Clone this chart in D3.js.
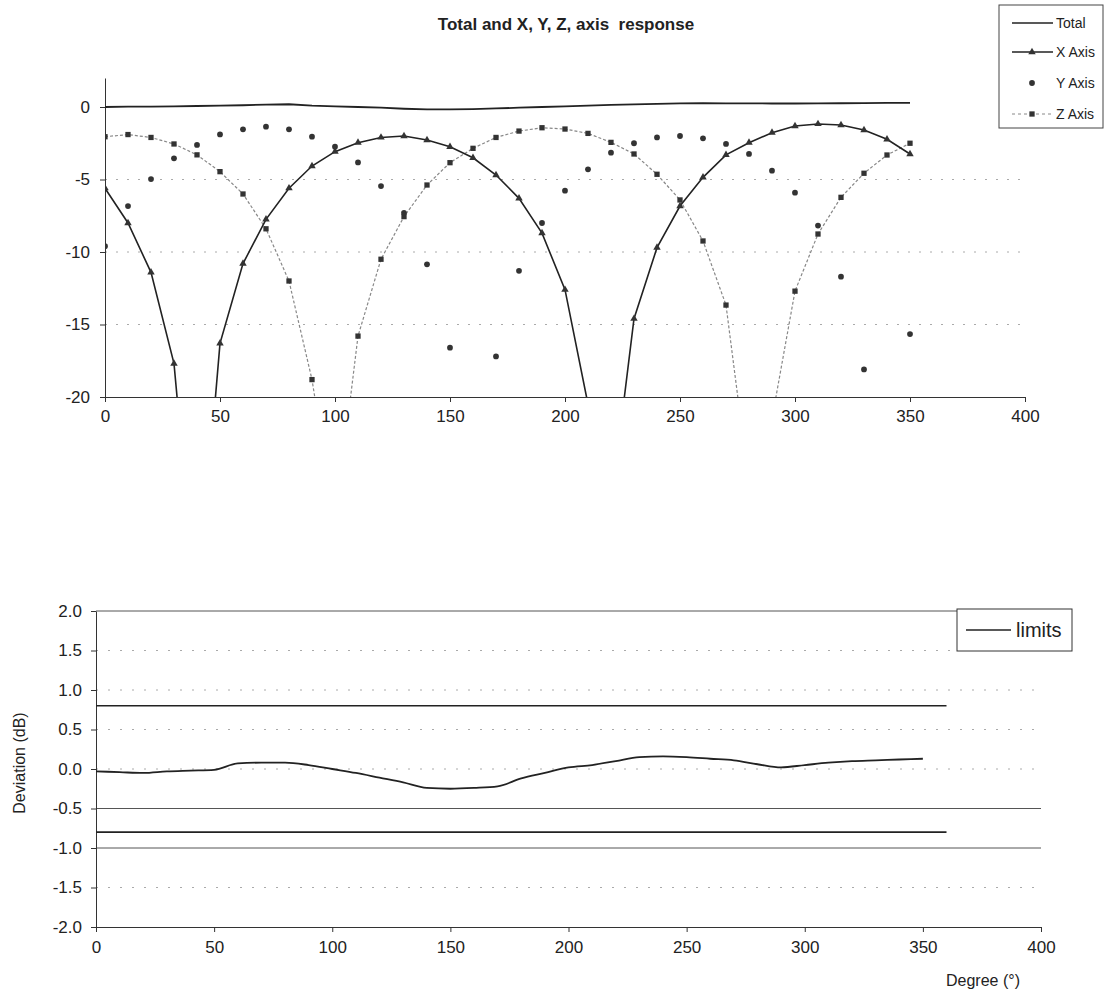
<!DOCTYPE html>
<html><head><meta charset="utf-8">
<script src="https://cdn.jsdelivr.net/npm/d3@7"></script>
<style>body{margin:0;background:#fff}svg{display:block}text{font-family:"Liberation Sans",Arial,sans-serif;fill:#222}</style>
</head><body>
<svg id="c" width="1108" height="993"></svg>
<script>
const degrees = [0,10,20,30,40,50,60,70,80,90,100,110,120,130,140,150,160,170,180,190,200,210,220,230,240,250,260,270,280,290,300,310,320,330,340,350];
const totalVals = [0.0,0.02,0.03,0.05,0.07,0.09,0.12,0.17,0.19,0.1,0.05,0.0,-0.05,-0.12,-0.16,-0.16,-0.14,-0.1,-0.05,0.0,0.05,0.1,0.14,0.18,0.22,0.25,0.26,0.25,0.25,0.24,0.24,0.25,0.26,0.27,0.28,0.28];
const xAxisVals = [-5.6,-8.0,-11.4,-17.7,-35,-16.3,-10.8,-7.75,-5.6,-4.07,-3.08,-2.46,-2.1,-2.0,-2.28,-2.74,-3.5,-4.69,-6.3,-8.7,-12.6,-20.5,-27.5,-14.6,-9.7,-6.83,-4.85,-3.3,-2.46,-1.77,-1.31,-1.17,-1.24,-1.59,-2.23,-3.24];
const yAxisVals = [-9.6,-6.83,-4.97,-3.54,-2.62,-1.89,-1.54,-1.36,-1.54,-2.05,-2.74,-3.82,-5.45,-7.3,-10.85,-16.6,-25,-17.2,-11.3,-8.0,-5.77,-4.3,-3.15,-2.5,-2.1,-2.0,-2.16,-2.55,-3.24,-4.39,-5.91,-8.18,-11.7,-18.1,-24,-15.66];
const zAxisVals = [-2.05,-1.9,-2.1,-2.55,-3.3,-4.46,-6.0,-8.4,-12.0,-18.8,-28.8,-15.8,-10.5,-7.56,-5.38,-3.84,-2.85,-2.1,-1.66,-1.43,-1.52,-1.82,-2.44,-3.24,-4.64,-6.41,-9.24,-13.66,-26,-21.5,-12.7,-8.76,-6.23,-4.57,-3.31,-2.5];
const deviationVals = [-0.03,-0.04,-0.05,-0.03,-0.02,-0.01,0.07,0.08,0.08,0.05,0.0,-0.05,-0.11,-0.17,-0.24,-0.25,-0.24,-0.22,-0.12,-0.05,0.02,0.05,0.1,0.15,0.16,0.15,0.13,0.11,0.06,0.02,0.05,0.08,0.1,0.11,0.12,0.13];
const limitDeg = [0,360];
const upperLimit = [0.8,0.8];
const lowerLimit = [-0.8,-0.8];
const topXTicks = [0,50,100,150,200,250,300,350,400];
const topYTicks = [0,-5,-10,-15,-20];
const botYTicks = [2.0,1.5,1.0,0.5,0.0,-0.5,-1.0,-1.5,-2.0];
const topLegend = ["Total","X Axis","Y Axis","Z Axis"];

const svg = d3.select("#c");
const ink = "#222";
const hy = s => s.replace(/\u2212/g,"-");

// ---------- TOP CHART ----------
const xT = d3.scaleLinear([0,400],[105,1025]);
const yT = d3.scaleLinear([-20,2],[397,78]);

svg.append("text").attr("x",566).attr("y",30).attr("text-anchor","middle")
  .style("font-size","17px").style("font-weight","bold").style("white-space","pre")
  .text("Total and X, Y, Z, axis  response");

svg.append("g").selectAll("line").data([-5,-10,-15]).join("line")
  .attr("x1",xT(0)).attr("x2",xT(400)).attr("y1",d=>yT(d)).attr("y2",d=>yT(d))
  .attr("stroke","#aaa").attr("stroke-width",1).attr("stroke-dasharray","2,9");

svg.append("defs").append("clipPath").attr("id","clipT").append("rect")
  .attr("x",xT(0)).attr("y",yT(2)).attr("width",xT(400)-xT(0)).attr("height",yT(-20)-yT(2));

const gx = svg.append("g").attr("transform",`translate(0,${yT(-20)})`)
  .call(d3.axisBottom(xT).tickValues(topXTicks).tickSize(5).tickSizeOuter(0).tickPadding(8));
const gy = svg.append("g").attr("transform",`translate(${xT(0)},0)`)
  .call(d3.axisLeft(yT).tickValues(topYTicks).tickFormat(d=>hy(d3.format("d")(d))).tickSize(5).tickSizeOuter(0).tickPadding(10));
[gx,gy].forEach(g=>{g.selectAll("path,line").attr("stroke","#333");g.selectAll("text").style("font-size","17px").attr("fill",ink);g.attr("font-family",null);});

const plotT = svg.append("g").attr("clip-path","url(#clipT)");
const pts = vals => degrees.map((d,i)=>[d,vals[i]]);
const lineT = d3.line().x(d=>xT(d[0])).y(d=>yT(d[1]));

plotT.append("path").attr("d",lineT(pts(zAxisVals))).attr("fill","none").attr("stroke","#888").attr("stroke-width",1.2).attr("stroke-dasharray","3,2");
plotT.append("path").attr("d",lineT(pts(totalVals))).attr("fill","none").attr("stroke",ink).attr("stroke-width",1.8);
plotT.append("path").attr("d",lineT(pts(xAxisVals))).attr("fill","none").attr("stroke",ink).attr("stroke-width",1.6);

const inRange = d => d[1] >= -20 && d[1] <= 2;
const tri = d3.symbol(d3.symbolTriangle, 24);
const sq = d3.symbol(d3.symbolSquare, 28);
const dia = d3.symbol(d3.symbolCircle, 26);
plotT.append("g").selectAll("path").data(pts(zAxisVals).filter(inRange)).join("path")
  .attr("d",sq).attr("transform",d=>`translate(${xT(d[0])},${yT(d[1])})`).attr("fill","#333");
plotT.append("g").selectAll("path").data(pts(xAxisVals).filter(inRange)).join("path")
  .attr("d",tri).attr("transform",d=>`translate(${xT(d[0])},${yT(d[1])})`).attr("fill","#333");
plotT.append("g").selectAll("path").data(pts(yAxisVals).filter(inRange)).join("path")
  .attr("d",dia).attr("transform",d=>`translate(${xT(d[0])},${yT(d[1])})`).attr("fill","#333");

// legend top
const lg = svg.append("g");
lg.append("rect").attr("x",999).attr("y",5).attr("width",104).attr("height",123).attr("fill","#fff").attr("stroke","#444");
const legY = [23,52,83,114];
topLegend.forEach((name,i)=>{
  const y = legY[i];
  if(i===0||i===1) lg.append("line").attr("x1",1012).attr("x2",1053).attr("y1",y).attr("y2",y).attr("stroke",ink).attr("stroke-width",1.5);
  if(i===3) lg.append("line").attr("x1",1012).attr("x2",1053).attr("y1",y).attr("y2",y).attr("stroke","#888").attr("stroke-dasharray","3,3");
  const sym = i===1?tri:i===2?dia:i===3?sq:null;
  if(sym) lg.append("path").attr("d",sym).attr("transform",`translate(1032,${y})`).attr("fill","#333");
  lg.append("text").attr("x",1056).attr("y",y+5).style("font-size","14px").text(name);
});

// ---------- BOTTOM CHART ----------
const xB = d3.scaleLinear([0,400],[96,1041]);
const yB = d3.scaleLinear([-2,2],[927,611]);
const solidGrid = [2.0,-0.5,-1.0];
svg.append("g").selectAll("line").data(botYTicks.filter(v=>v>-2)).join("line")
  .attr("x1",xB(0)).attr("x2",xB(400)).attr("y1",d=>yB(d)).attr("y2",d=>yB(d))
  .attr("stroke",d=>solidGrid.includes(d)?"#555":"#aaa").attr("stroke-width",1)
  .attr("stroke-dasharray",d=>solidGrid.includes(d)?null:"2,10");

const gxb = svg.append("g").attr("transform",`translate(0,${yB(-2)})`)
  .call(d3.axisBottom(xB).tickValues(topXTicks).tickSize(5).tickSizeOuter(0).tickPadding(9));
const gyb = svg.append("g").attr("transform",`translate(${xB(0)},0)`)
  .call(d3.axisLeft(yB).tickValues(botYTicks).tickFormat(d=>hy(d3.format(".1f")(d))).tickSize(5).tickSizeOuter(0).tickPadding(9));
[gxb,gyb].forEach(g=>{g.selectAll("path,line").attr("stroke","#333");g.selectAll("text").style("font-size","17px").attr("fill",ink);g.attr("font-family",null);});

const lineB = d3.line().x(d=>xB(d[0])).y(d=>yB(d[1]));
svg.append("path").attr("d",lineB(limitDeg.map((d,i)=>[d,upperLimit[i]]))).attr("fill","none").attr("stroke",ink).attr("stroke-width",1.6);
svg.append("path").attr("d",lineB(limitDeg.map((d,i)=>[d,lowerLimit[i]]))).attr("fill","none").attr("stroke",ink).attr("stroke-width",1.8);
svg.append("path").attr("d",d3.line().curve(d3.curveMonotoneX).x(d=>xB(d[0])).y(d=>yB(d[1]))(pts(deviationVals)))
  .attr("fill","none").attr("stroke",ink).attr("stroke-width",1.8);

svg.append("text").attr("transform","translate(25,763) rotate(-90)").attr("text-anchor","middle").style("font-size","16px").text("Deviation (dB)");
svg.append("text").attr("x",983).attr("y",986).attr("text-anchor","middle").style("font-size","16px").text("Degree (°)");

const lb = svg.append("g");
lb.append("rect").attr("x",957).attr("y",609).attr("width",115).attr("height",42).attr("fill","#fff").attr("stroke","#333");
lb.append("line").attr("x1",966).attr("x2",1011).attr("y1",630).attr("y2",630).attr("stroke",ink).attr("stroke-width",1.5);
lb.append("text").attr("x",1016).attr("y",637).style("font-size","20px").text("limits");
</script>
</body></html>
